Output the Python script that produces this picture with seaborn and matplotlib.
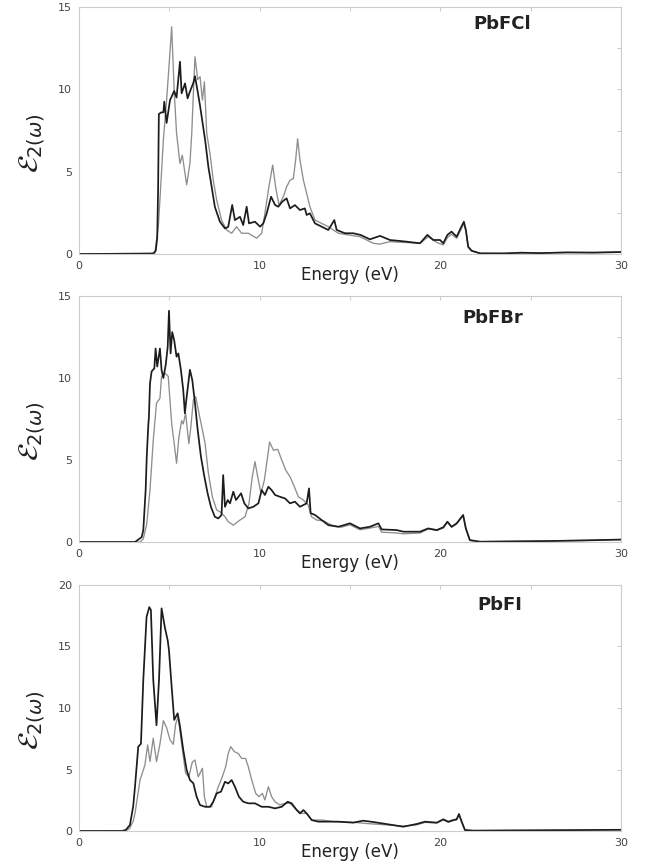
# plot.py

import seaborn as sns
import matplotlib.pyplot as plt
from matplotlib.ticker import MultipleLocator

sns.set_style("white")
plt.rcParams['font.family'] = ['DejaVu Sans']
plt.rcParams['mathtext.fontset'] = 'dejavusans'

# PbFCl (energy in eV, eps2)
cl_black_e = [0, 4.1, 4.25, 4.33, 4.38, 4.42, 4.55, 4.67, 4.72, 4.85,
              5.04, 5.27, 5.4, 5.59, 5.68, 5.87, 6.01, 6.14, 6.33, 6.42,
              6.57, 6.7, 6.98, 7.16, 7.34, 7.52, 7.8, 8.08, 8.26, 8.48,
              8.63, 8.91, 9.09, 9.28, 9.41, 9.74, 10.02, 10.2, 10.39, 10.63,
              10.85, 11.03, 11.25, 11.49, 11.68, 11.95, 12.23, 12.5, 12.6, 12.78,
              13.06, 13.43, 13.8, 14.13, 14.26, 14.72, 15.18, 15.6, 16.1, 16.66,
              17.21, 18.13, 18.87, 19.28, 19.61, 19.98, 20.16, 20.39, 20.62, 20.9,
              21.12, 21.3, 21.41, 21.54, 21.73, 22.19, 23.5, 24.5, 25.5, 27.0,
              28.5, 30]
cl_black_v = [0, 0.02, 0.2, 1.0, 4.0, 8.5, 8.6, 8.6, 9.25, 7.96,
              9.35, 9.9, 9.5, 11.68, 9.76, 10.36, 9.45, 9.86, 10.4, 10.8,
              9.86, 9.0, 6.93, 5.3, 4.1, 2.86, 1.96, 1.55, 1.65, 2.98,
              2.06, 2.26, 1.76, 2.87, 1.86, 1.96, 1.66, 1.86, 2.47, 3.48,
              2.98, 2.87, 3.18, 3.38, 2.77, 2.97, 2.67, 2.77, 2.37, 2.47,
              1.86, 1.66, 1.46, 2.06, 1.46, 1.26, 1.26, 1.15, 0.89, 1.1,
              0.85, 0.75, 0.65, 1.16, 0.85, 0.85, 0.65, 1.16, 1.36, 1.05,
              1.56, 1.96, 1.46, 0.44, 0.2, 0.04, 0.03, 0.08, 0.05, 0.1,
              0.08, 0.12]
cl_gray_e = [0, 4.2, 4.39, 4.48, 4.67, 4.85, 4.98, 5.13, 5.27, 5.4,
             5.59, 5.72, 5.96, 6.14, 6.24, 6.33, 6.42, 6.57, 6.7, 6.83,
             6.94, 7.07, 7.25, 7.43, 7.62, 7.89, 8.17, 8.45, 8.72, 9.0,
             9.37, 9.83, 10.11, 10.29, 10.51, 10.72, 10.88, 11.07, 11.31, 11.49,
             11.68, 11.86, 11.99, 12.1, 12.23, 12.42, 12.6, 12.78, 13.06, 13.43,
             13.8, 14.35, 14.9, 15.55, 16.29, 16.66, 17.2, 18.87, 19.33, 19.8,
             20.16, 20.39, 20.62, 20.9, 21.12, 21.3, 21.41, 21.54, 21.73, 22.19,
             24.5, 27.0, 30]
cl_gray_v = [0, 0.05, 1.66, 3.28, 6.93, 9.35, 11.37, 13.8, 9.9, 7.33,
             5.5, 6.0, 4.2, 5.5, 7.3, 9.76, 11.98, 10.6, 10.77, 9.35,
             10.46, 7.33, 6.1, 4.48, 3.28, 2.06, 1.46, 1.26, 1.66, 1.26,
             1.26, 0.96, 1.26, 2.47, 4.08, 5.4, 4.08, 2.97, 3.48, 4.08,
             4.48, 4.58, 5.7, 7.0, 5.7, 4.48, 3.68, 2.87, 2.06, 1.86,
             1.66, 1.26, 1.16, 1.05, 0.65, 0.6, 0.75, 0.65, 1.05, 0.7,
             0.55, 1.0, 1.2, 0.95, 1.45, 1.85, 1.4, 0.4, 0.18, 0.04,
             0.06, 0.08, 0.12]

# PbFBr
br_black_e = [0, 3.1, 3.47, 3.56, 3.69, 3.75, 3.84, 3.87, 3.93, 4.02,
              4.17, 4.24, 4.33, 4.48, 4.57, 4.67, 4.8, 4.91, 4.98, 5.07,
              5.16, 5.27, 5.4, 5.5, 5.64, 5.77, 5.86, 5.96, 6.14, 6.27,
              6.42, 6.57, 6.75, 6.94, 7.12, 7.3, 7.52, 7.71, 7.89, 7.98,
              8.08, 8.23, 8.36, 8.54, 8.69, 8.97, 9.15, 9.37, 9.65, 9.93,
              10.11, 10.29, 10.48, 10.66, 10.85, 11.12, 11.4, 11.68, 11.95, 12.23,
              12.6, 12.73, 12.82, 13.06, 13.43, 13.8, 14.35, 15.0, 15.55, 16.1,
              16.57, 16.75, 17.58, 17.95, 18.87, 19.33, 19.8, 20.16, 20.39, 20.62,
              20.9, 21.26, 21.41, 21.63, 22.19, 24.0, 26.0, 28.0, 30]
br_black_v = [0, 0.0, 0.3, 0.73, 3.17, 5.2, 7.2, 7.6, 9.67, 10.4,
              10.59, 11.8, 10.7, 11.8, 10.5, 10.0, 10.8, 11.9, 14.1, 11.5,
              12.8, 12.3, 11.3, 11.5, 10.5, 9.27, 7.85, 8.86, 10.5, 9.88,
              8.46, 6.83, 5.2, 3.98, 2.97, 2.15, 1.54, 1.44, 1.65, 4.08,
              2.15, 2.56, 2.36, 3.07, 2.56, 2.97, 2.36, 2.05, 2.15, 2.36,
              3.17, 2.87, 3.37, 3.17, 2.87, 2.76, 2.66, 2.36, 2.46, 2.15,
              2.36, 3.27, 1.76, 1.65, 1.34, 1.03, 0.93, 1.14, 0.83, 0.93,
              1.14, 0.77, 0.73, 0.63, 0.63, 0.83, 0.73, 0.9, 1.24, 0.93,
              1.14, 1.65, 0.83, 0.12, 0.02, 0.04, 0.06, 0.1, 0.15]
br_gray_e = [0, 3.4, 3.56, 3.75, 3.93, 4.11, 4.29, 4.48, 4.57, 4.76,
             4.94, 5.13, 5.27, 5.4, 5.53, 5.68, 5.77, 5.9, 6.08, 6.19,
             6.33, 6.46, 6.64, 6.83, 6.98, 7.16, 7.38, 7.62, 7.8, 8.08,
             8.26, 8.54, 8.91, 9.19, 9.41, 9.59, 9.74, 9.89, 10.07, 10.26,
             10.44, 10.55, 10.76, 11.0, 11.22, 11.44, 11.68, 11.92, 12.14, 12.42,
             12.69, 12.87, 13.15, 13.52, 13.98, 14.5, 15.0, 15.55, 16.1, 16.57,
             16.75, 17.58, 17.95, 18.87, 19.33, 19.8, 20.16, 20.39, 20.62, 20.9,
             21.26, 21.41, 21.63, 22.19, 25.0, 28.0, 30]
br_gray_v = [0, 0.0, 0.2, 1.1, 3.17, 6.2, 8.46, 8.76, 10.1, 10.3,
             10.1, 7.23, 6.0, 4.8, 6.4, 7.4, 7.2, 7.85, 6.0, 7.0,
             8.66, 8.86, 7.85, 6.83, 6.0, 4.2, 2.76, 1.95, 1.85, 1.54,
             1.24, 1.03, 1.34, 1.54, 2.36, 3.98, 4.9, 3.98, 2.97, 3.78,
             5.2, 6.1, 5.6, 5.65, 5.0, 4.39, 3.98, 3.37, 2.76, 2.56,
             2.25, 1.54, 1.34, 1.3, 1.03, 0.9, 1.05, 0.75, 0.85, 0.95,
             0.6, 0.55, 0.5, 0.55, 0.8, 0.7, 0.85, 1.2, 0.9, 1.1,
             1.6, 0.8, 0.1, 0.02, 0.05, 0.1, 0.15]

# PbFI
i_black_e = [0, 2.4, 2.6, 2.82, 3.0, 3.1, 3.28, 3.43, 3.56, 3.74,
             3.89, 3.98, 4.11, 4.29, 4.43, 4.57, 4.76, 4.91, 4.98, 5.13,
             5.27, 5.46, 5.59, 5.77, 5.96, 6.14, 6.33, 6.51, 6.7, 6.98,
             7.25, 7.43, 7.62, 7.86, 8.08, 8.26, 8.45, 8.63, 8.85, 9.09,
             9.37, 9.74, 10.11, 10.48, 10.85, 11.22, 11.55, 11.77, 12.05, 12.23,
             12.42, 12.6, 12.88, 13.24, 13.8, 14.35, 15.18, 15.73, 16.29, 17.0,
             17.95, 18.69, 19.15, 19.8, 20.16, 20.44, 20.71, 20.9, 21.03, 21.18,
             21.36, 21.82, 24.0, 27.0, 30]
i_black_v = [0, 0.0, 0.1, 0.49, 2.0, 3.6, 6.85, 7.1, 12.3, 17.4,
             18.2, 17.97, 12.3, 8.6, 12.3, 18.1, 16.5, 15.5, 14.7, 11.7,
             9.03, 9.57, 8.5, 6.6, 4.96, 4.15, 3.88, 2.79, 2.11, 1.97,
             1.97, 2.38, 3.06, 3.2, 4.0, 3.87, 4.14, 3.6, 2.79, 2.38,
             2.25, 2.25, 1.97, 1.97, 1.84, 1.97, 2.38, 2.25, 1.7, 1.43,
             1.7, 1.43, 0.89, 0.76, 0.76, 0.76, 0.68, 0.84, 0.73, 0.57,
             0.35, 0.57, 0.76, 0.68, 0.95, 0.76, 0.89, 0.95, 1.38, 0.76,
             0.08, 0.03, 0.05, 0.07, 0.1]
i_gray_e = [0, 2.6, 2.8, 3.0, 3.1, 3.38, 3.65, 3.8, 3.93, 4.11,
            4.29, 4.48, 4.67, 4.85, 5.04, 5.22, 5.35, 5.49, 5.68, 5.9,
            6.08, 6.27, 6.42, 6.6, 6.83, 6.94, 7.07, 7.34, 7.53, 7.71,
            7.93, 8.12, 8.26, 8.4, 8.6, 8.82, 9.0, 9.22, 9.37, 9.56,
            9.78, 9.96, 10.15, 10.29, 10.48, 10.66, 10.85, 11.12, 11.4, 11.68,
            11.96, 12.32, 12.6, 12.88, 13.43, 14.17, 15.27, 16.0, 17.0, 17.95,
            18.69, 19.15, 19.8, 20.16, 20.44, 20.71, 20.9, 21.03, 21.18, 21.36,
            21.82, 25.0, 30]
i_gray_v = [0, 0.02, 0.2, 0.8, 1.43, 4.15, 5.37, 7.0, 5.64, 7.55,
            5.64, 7.05, 8.97, 8.4, 7.4, 7.05, 8.7, 9.3, 7.1, 4.7,
            4.4, 5.6, 5.77, 4.4, 5.1, 2.79, 1.97, 1.97, 2.79, 3.6,
            4.4, 5.23, 6.3, 6.85, 6.45, 6.3, 5.9, 5.9, 5.23, 4.15,
            3.06, 2.79, 3.06, 2.52, 3.6, 2.79, 2.38, 2.11, 2.25, 2.25,
            1.84, 1.43, 1.43, 0.89, 0.89, 0.76, 0.7, 0.6, 0.5, 0.4,
            0.5, 0.7, 0.65, 0.9, 0.7, 0.85, 0.9, 1.3, 0.7, 0.08,
            0.03, 0.05, 0.1]

names = ["PbFCl", "PbFBr", "PbFI"]
y_max = [15, 15, 20]
black_sets = [(cl_black_e, cl_black_v), (br_black_e, br_black_v), (i_black_e, i_black_v)]
gray_sets = [(cl_gray_e, cl_gray_v), (br_gray_e, br_gray_v), (i_gray_e, i_gray_v)]

fig = plt.figure(figsize=(6.5, 8.66), dpi=100)
boxes = [[0.1215, 0.7067, 0.834, 0.2852],
         [0.1215, 0.3741, 0.834, 0.2841],
         [0.1215, 0.0404, 0.834, 0.2841]]
title_x = [23.4, 22.9, 23.3]
title_y = [0.93, 0.91, 0.92]

for i in range(3):
    ax = fig.add_axes(boxes[i])
    ge, gv = gray_sets[i]
    be, bv = black_sets[i]
    sns.lineplot(x=ge, y=gv, ax=ax, color='#8e8e8e', linewidth=0.95,
                 estimator=None, errorbar=None)
    sns.lineplot(x=be, y=bv, ax=ax, color='#1c1c1c', linewidth=1.25,
                 estimator=None, errorbar=None)

    ax.set_xlim(0, 30)
    ax.set_ylim(0, y_max[i])
    ax.xaxis.set_major_locator(MultipleLocator(10))
    ax.xaxis.set_minor_locator(MultipleLocator(5))
    ax.yaxis.set_major_locator(MultipleLocator(5))
    if y_max[i] == 15:
        ax.yaxis.set_minor_locator(MultipleLocator(2.5))
    ax.tick_params(which='both', direction='in', top=True, right=True,
                   length=3, width=0.6, color='#c0c0c0',
                   labelsize=8, labelcolor='#444444', pad=5)
    for sp in ax.spines.values():
        sp.set_color('#cccccc')
        sp.set_linewidth(0.8)

    ax.set_xlabel('Energy (eV)', fontsize=12, color='#222222')
    ax.xaxis.set_label_coords(0.5, -0.05)
    ax.set_ylabel(r'$\mathcal{E}_{2(\omega)}$', fontsize=20, color='#222222')
    ax.yaxis.set_label_coords(-0.058, 0.45)

    ax.text(title_x[i], title_y[i], names[i], transform=ax.get_xaxis_transform(),
            ha='center', va='center', fontsize=13, fontweight='bold', color='#222222')

fig.savefig('out.png', dpi=100)
